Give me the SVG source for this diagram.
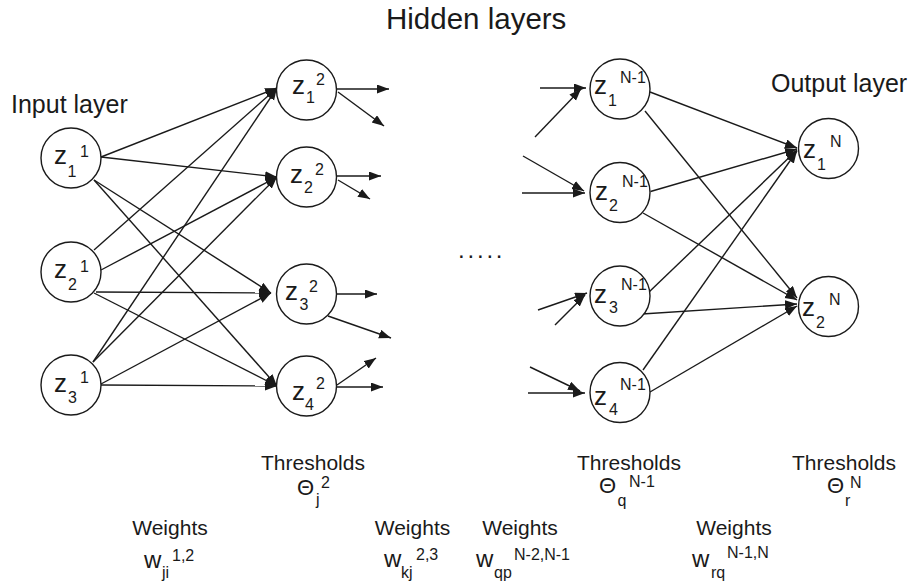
<svg xmlns="http://www.w3.org/2000/svg" width="912" height="583" viewBox="0 0 912 583">
<style>
text{font-family:"Liberation Sans",Arial,Helvetica,sans-serif;fill:#1a1a1a}
.node circle{fill:#fff;stroke:#1a1a1a;stroke-width:1.4}
.z{font-size:26px}
.s{font-size:16px}
.hdr{font-size:25px}
.lbl{font-size:21px;text-anchor:middle}
.th{font-size:22px}
.w{font-size:24px}
#connectors line{stroke:#1a1a1a;stroke-width:1.4;marker-end:url(#ah)}
</style>
<defs>
<marker id="ah" markerUnits="userSpaceOnUse" markerWidth="13" markerHeight="10" refX="12" refY="4.5" orient="auto">
<path d="M0,0 L12,4.5 L0,9 z" fill="#1a1a1a"/>
</marker>
</defs>
<rect width="912" height="583" fill="#fff"/>
<text x="386" y="29" style="font-size:29.5px">Hidden layers</text>
<text x="11" y="113" class="hdr">Input layer</text>
<text x="771" y="92" class="hdr">Output layer</text>
<text x="458" y="258" style="font-size:24px;letter-spacing:2.8px">.....</text>

<g id="connectors">
<line x1="101" y1="157" x2="277" y2="88"/>
<line x1="101" y1="157" x2="277" y2="177"/>
<line x1="94" y1="180" x2="271" y2="293"/>
<line x1="94" y1="180" x2="277" y2="386"/>
<line x1="94" y1="250" x2="277" y2="88"/>
<line x1="101" y1="270" x2="277" y2="177"/>
<line x1="96" y1="292" x2="271" y2="293"/>
<line x1="94" y1="293" x2="277" y2="386"/>
<line x1="93" y1="362" x2="277" y2="88"/>
<line x1="93" y1="362" x2="277" y2="177"/>
<line x1="101" y1="384" x2="271" y2="293"/>
<line x1="101" y1="385" x2="277" y2="386"/>
<line x1="337" y1="89" x2="389" y2="89"/>
<line x1="338" y1="92" x2="384" y2="126"/>
<line x1="337" y1="176" x2="381" y2="176"/>
<line x1="338" y1="180" x2="370" y2="199"/>
<line x1="337" y1="294" x2="377" y2="294"/>
<line x1="328" y1="316" x2="391" y2="338"/>
<line x1="337" y1="385" x2="376" y2="358"/>
<line x1="337" y1="387" x2="383" y2="387"/>
<line x1="540" y1="88" x2="586" y2="88"/>
<line x1="535" y1="137" x2="581" y2="89"/>
<line x1="523" y1="156" x2="584" y2="191"/>
<line x1="522" y1="193" x2="585" y2="193"/>
<line x1="538" y1="310" x2="587" y2="293"/>
<line x1="555" y1="325" x2="585" y2="295"/>
<line x1="530" y1="367" x2="580" y2="391"/>
<line x1="528" y1="393" x2="585" y2="393"/>
<line x1="650" y1="92" x2="797" y2="148"/>
<line x1="645" y1="111" x2="797" y2="298"/>
<line x1="650.5" y1="191.5" x2="797" y2="149"/>
<line x1="643" y1="213" x2="797" y2="300"/>
<line x1="648" y1="293" x2="797" y2="150"/>
<line x1="642" y1="314" x2="797" y2="304"/>
<line x1="643" y1="370" x2="797" y2="151"/>
<line x1="650" y1="392" x2="797" y2="306"/>
</g>

<g id="n11" class="node"><circle cx="71" cy="158" r="30"/><text x="54" y="164" class="z">z</text><text x="67.5" y="176.5" class="s">1</text><text x="80" y="157" class="s">1</text></g>
<g id="n21" class="node"><circle cx="71" cy="272" r="30"/><text x="54" y="278" class="z">z</text><text x="68" y="290" class="s">2</text><text x="80" y="271.5" class="s">1</text></g>
<g id="n31" class="node"><circle cx="71" cy="385" r="30"/><text x="54" y="392" class="z">z</text><text x="68" y="403" class="s">3</text><text x="80" y="383" class="s">1</text></g>

<g id="n12" class="node"><circle cx="306.5" cy="90" r="30"/><text x="292" y="94" class="z">z</text><text x="306" y="103" class="s">1</text><text x="316" y="85" class="s">2</text></g>
<g id="n22" class="node"><circle cx="306.5" cy="177" r="30"/><text x="290" y="183" class="z">z</text><text x="304" y="193" class="s">2</text><text x="315" y="175" class="s">2</text></g>
<g id="n32" class="node"><circle cx="306.5" cy="294" r="30"/><text x="285" y="300" class="z">z</text><text x="299.5" y="310" class="s">3</text><text x="309" y="292" class="s">2</text></g>
<g id="n42" class="node"><circle cx="306.5" cy="386" r="30"/><text x="292" y="400" class="z">z</text><text x="305" y="409.5" class="s">4</text><text x="316" y="389" class="s">2</text></g>

<g id="n1q" class="node"><circle cx="620" cy="89" r="30"/><text x="594" y="94" class="z">z</text><text x="608" y="106" class="s">1</text><text x="620" y="83" class="s">N-1</text></g>
<g id="n2q" class="node"><circle cx="620" cy="192.5" r="30"/><text x="595" y="200" class="z">z</text><text x="609" y="210.5" class="s">2</text><text x="622" y="187" class="s">N-1</text></g>
<g id="n3q" class="node"><circle cx="620" cy="296" r="30"/><text x="594" y="303" class="z">z</text><text x="609" y="313" class="s">3</text><text x="621" y="290" class="s">N-1</text></g>
<g id="n4q" class="node"><circle cx="620" cy="392.5" r="30"/><text x="594" y="405" class="z">z</text><text x="609" y="415" class="s">4</text><text x="620" y="390" class="s">N-1</text></g>

<g id="n1N" class="node"><circle cx="828.5" cy="148.5" r="30"/><text x="803" y="158" class="z">z</text><text x="817" y="170" class="s">1</text><text x="830" y="147" class="s">N</text></g>
<g id="n2N" class="node"><circle cx="828.5" cy="306.5" r="30"/><text x="802" y="316" class="z">z</text><text x="816" y="328" class="s">2</text><text x="829" y="305" class="s">N</text></g>

<g id="thresholds">
<text x="313" y="470" class="lbl">Thresholds</text>
<text x="297" y="495" class="th">Θ</text><text x="316" y="505" class="s">j</text><text x="321" y="488" class="s">2</text>
<text x="629" y="470" class="lbl">Thresholds</text>
<text x="599" y="493" class="th">Θ</text><text x="617.5" y="506" class="s">q</text><text x="629" y="487" class="s">N-1</text>
<text x="844" y="470" class="lbl">Thresholds</text>
<text x="827" y="493" class="th">Θ</text><text x="845" y="506" class="s">r</text><text x="850" y="488" class="s">N</text>
</g>
<g id="weights">
<text x="170" y="535" class="lbl">Weights</text>
<text x="144" y="568" class="w">w</text><text x="162" y="578" class="s">ji</text><text x="172" y="561" class="s">1,2</text>
<text x="412.5" y="535" class="lbl">Weights</text>
<text x="384" y="567" class="w">w</text><text x="401" y="578" class="s">kj</text><text x="416" y="560" class="s">2,3</text>
<text x="520" y="535" class="lbl">Weights</text>
<text x="476" y="567" class="w">w</text><text x="494" y="578" class="s">qp</text><text x="514" y="560" class="s">N-2,N-1</text>
<text x="734" y="535" class="lbl">Weights</text>
<text x="692" y="567" class="w">w</text><text x="711" y="578" class="s">rq</text><text x="727" y="558" class="s">N-1,N</text>
</g>
</svg>
